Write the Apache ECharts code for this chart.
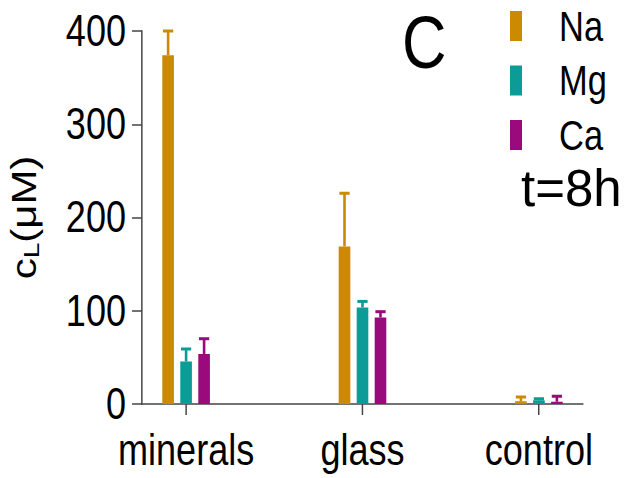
<!DOCTYPE html>
<html>
<head>
<meta charset="utf-8">
<script src="https://cdn.jsdelivr.net/npm/echarts@6/dist/echarts.min.js"></script>
<style>
  html, body { margin: 0; padding: 0; background: #fff; overflow: hidden; }
  #wrap { width: 626px; height: 478px; overflow: hidden; }
  /* The chart is laid out wider and then condensed horizontally,
     which gives the narrow lettering of the figure. */
  #chart { width: 763.4px; height: 478px; transform: scaleX(0.82); transform-origin: 0 0; }
</style>
</head>
<body>
<div id="wrap"><div id="chart"></div></div>
<script>
// Sample groups along the x axis
const categories = ['minerals', 'glass', 'control'];

// Mean concentrations (µM) after 8 h, and the upper error (SD)
const naValues = [374, 169, 3];
const naErrors = [26, 57, 4.5];
const mgValues = [45.6, 103.5, 4];
const mgErrors = [13.4, 6.5, 1.7];
const caValues = [53.6, 92.8, 2.5];
const caErrors = [16.4, 6.2, 5.7];

// Y axis ticks
const yTicks = [0, 100, 200, 300, 400];

// Horizontal condensing factor applied to the chart container
const SX = 0.82;
const px = v => v / SX;   // on-screen horizontal pixels -> layout pixels

const FONT = "'Liberation Sans', Arial, sans-serif";
const colors = { Na: '#CC8A00', Mg: '#0B9C98', Ca: '#9A0A7C' };

// Widths in x-axis units (one unit = distance between groups)
const BAR_W = 0.066;
const CAP_W = 0.058;
const SERIES_OFFSET = 0.102;

function makeSeries(name, values, errors, offset) {
  return {
    name: name,
    type: 'custom',
    color: colors[name],
    itemStyle: { color: colors[name] },
    data: values.map((v, i) => [i, v, errors[i]]),
    renderItem: function (params, api) {
      const xc = api.value(0) + offset;
      const v = api.value(1);
      const e = api.value(2);
      const base = api.coord([xc, 0]);
      const top = api.coord([xc, v]);
      const errTop = api.coord([xc, v + e]);
      const bw = api.size([BAR_W, 0])[0];
      const cw = api.size([CAP_W, 0])[0];
      const c = colors[name];
      return {
        type: 'group',
        children: [
          {
            type: 'line',
            shape: { x1: top[0], y1: top[1], x2: errTop[0], y2: errTop[1] },
            style: { stroke: c, lineWidth: 3.2 }
          },
          {
            type: 'line',
            shape: { x1: errTop[0] - cw / 2, y1: errTop[1], x2: errTop[0] + cw / 2, y2: errTop[1] },
            style: { stroke: c, lineWidth: 3 }
          },
          {
            type: 'rect',
            shape: { x: base[0] - bw / 2, y: top[1], width: bw, height: base[1] - top[1] },
            style: { fill: c }
          }
        ]
      };
    }
  };
}

const chart = echarts.init(document.getElementById('chart'), null, { renderer: 'svg' });

chart.setOption({
  backgroundColor: '#ffffff',
  animation: false,
  grid: { left: px(142), width: px(441), top: 31, bottom: 74, containLabel: false },
  title: [
    {
      text: 'C', left: px(402), top: 5, padding: 0,
      textStyle: { fontFamily: FONT, fontSize: 75, fontWeight: 'normal', color: '#000' }
    }
  ],
  graphic: [
    {
      // the time label is set in regular width, so undo the condensing
      type: 'text',
      x: px(521),
      y: 163,
      scaleX: 1 / SX,
      style: { text: 't=8h', font: "51px 'Liberation Sans', Arial, sans-serif", fill: '#000', verticalAlign: 'top' }
    }
  ],
  legend: {
    orient: 'vertical',
    left: px(510),
    top: 5,
    padding: 0,
    itemWidth: px(12),
    itemHeight: 30,
    itemGap: 12.5,
    selectedMode: false,
    data: [
      { name: 'Na', icon: 'rect', itemStyle: { color: colors.Na } },
      { name: 'Mg', icon: 'rect', itemStyle: { color: colors.Mg } },
      { name: 'Ca', icon: 'rect', itemStyle: { color: colors.Ca } }
    ],
    textStyle: { fontFamily: FONT, fontSize: 42, color: '#000', padding: [0, 0, 0, px(33)] }
  },
  xAxis: {
    type: 'value',
    min: -0.25,
    max: 2.25,
    splitLine: { show: false },
    axisLine: { show: true, lineStyle: { color: '#444', width: 1.5 } },
    axisTick: {
      show: true,
      customValues: [0, 1, 2],
      length: 11,
      lineStyle: { color: '#444', width: 1.8 }
    },
    axisLabel: {
      customValues: [0, 1, 2],
      formatter: function (val) { return categories[Math.round(val)]; },
      fontFamily: FONT, fontSize: 44, color: '#000', margin: 24
    }
  },
  yAxis: {
    type: 'value',
    min: 0,
    max: 400,
    interval: 100,
    splitLine: { show: false },
    axisLine: { show: true, onZero: false, lineStyle: { color: '#444', width: 1.8 } },
    axisTick: { show: true, length: px(10), lineStyle: { color: '#444', width: 1.5 } },
    axisLabel: {
      fontFamily: FONT, fontSize: 44, color: '#000', margin: px(16),
      formatter: function (v) { return yTicks.indexOf(v) >= 0 ? String(v) : ''; }
    },
    name: '{c|c}{s|L}{c|(μM)}',
    nameLocation: 'middle',
    nameRotate: 90,
    nameGap: px(100),
    nameTextStyle: {
      rich: {
        c: { fontFamily: FONT, fontSize: 42, color: '#000' },
        s: { fontFamily: FONT, fontSize: 28, color: '#000', verticalAlign: 'bottom', padding: [16, 0, 0, 0] }
      }
    }
  },
  series: [
    makeSeries('Na', naValues, naErrors, -SERIES_OFFSET),
    makeSeries('Mg', mgValues, mgErrors, 0),
    makeSeries('Ca', caValues, caErrors, SERIES_OFFSET)
  ]
});
</script>
</body>
</html>
